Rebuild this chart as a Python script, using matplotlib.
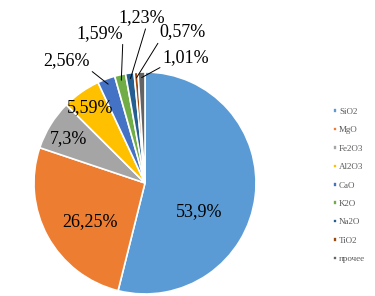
import numpy as np
import matplotlib
matplotlib.use('Agg')
import matplotlib.pyplot as plt

# oxide composition, %
names = ['SiO2', 'MgO', 'Fe2O3', 'Al2O3', 'CaO', 'K2O', 'Na2O', 'TiO2', 'прочее']
values = [53.9, 26.25, 7.3, 5.59, 2.56, 1.59, 1.23, 0.57, 1.01]
labels = ['53,9%', '26,25%', '7,3%', '5,59%', '2,56%', '1,59%', '1,23%', '0,57%', '1,01%']

colors = ['#5B9BD5', '#ED7D31', '#A5A5A5', '#FFC000', '#4472C4',
          '#70AD47', '#255E91', '#9E480E', '#636363']

# label placement (pie radius = 1)
label_pos = [(0.49, -0.26), (-0.50, -0.35), (-0.69, 0.40), (-0.49, 0.68),
             (-0.71, 1.10), (-0.41, 1.35), (-0.03, 1.49), (0.34, 1.36), (0.37, 1.13)]
outside = [False, False, False, False, True, True, True, True, True]
relpos = [None, None, None, None, (1, 0), (1, 0), (0.6, 0), (0, 0), (0, 0)]

fig = plt.figure(figsize=(3.75, 2.96), dpi=100)
ax = fig.add_axes([0, 0, 1, 1])

wedges, _ = ax.pie(values, colors=colors, startangle=90, counterclock=False,
                   wedgeprops=dict(edgecolor='white', linewidth=1.2))

cx, cy, r = 145, 183, 111
ax.set_xlim(-cx / r, (375 - cx) / r)
ax.set_ylim(-(296 - cy) / r, cy / r)
ax.set_aspect('equal')
ax.axis('off')

font = 'Liberation Serif'
for i, w in enumerate(wedges):
    x, y = label_pos[i]
    if not outside[i]:
        ax.text(x, y, labels[i], ha='center', va='center', fontsize=13,
                family=font, color='black')
    else:
        ang = np.deg2rad((w.theta1 + w.theta2) / 2)
        ax.annotate(labels[i], xy=(0.95 * np.cos(ang), 0.95 * np.sin(ang)),
                    xytext=(x, y), ha='center', va='center', fontsize=13,
                    family=font, color='black',
                    arrowprops=dict(arrowstyle='-', color='black', lw=0.7,
                                    relpos=relpos[i], shrinkA=0, shrinkB=0))

leg = ax.legend(wedges, names, loc='upper left', bbox_to_anchor=(329 / 375, 1 - 104 / 296),
                frameon=False, handlelength=0.45, handleheight=0.4, handletextpad=0.25,
                labelspacing=1.16, prop={'family': font, 'size': 6.5}, borderaxespad=0)
for t in leg.get_texts():
    t.set_color('#595959')

fig.savefig('out.png', dpi=100)
